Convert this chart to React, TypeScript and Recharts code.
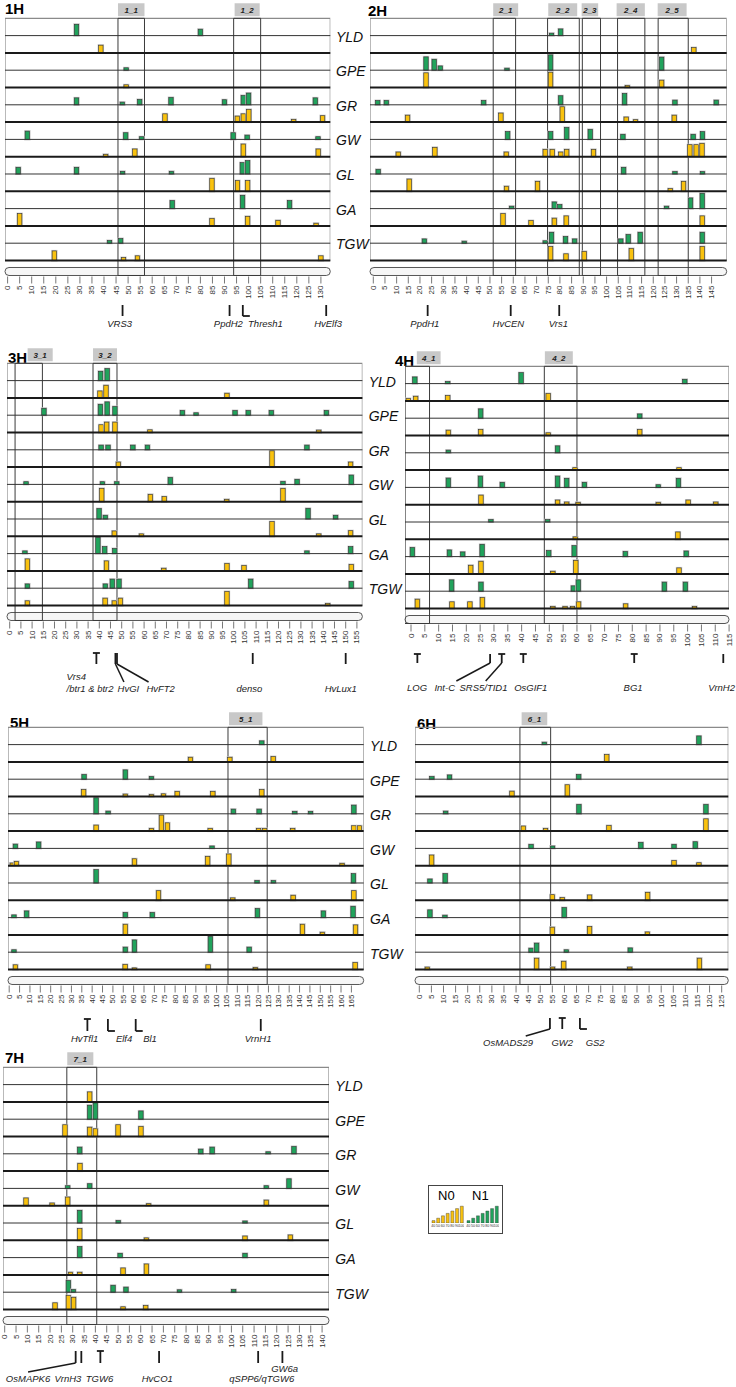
import React from 'react';
import {
  ComposedChart, BarChart, ScatterChart, Bar, Scatter, XAxis, YAxis,
  ReferenceArea, ReferenceLine,
} from 'recharts';

const TRAITS = ['YLD', 'GPE', 'GR', 'GW', 'GL', 'GA', 'TGW'];

// QTL bars: [trait, position (cM), relative bar height]
const n1_1H = [
  ['YLD', 28.6, 85], ['YLD', 80, 48],
  ['GPE', 49.2, 18],
  ['GR', 28.6, 52], ['GR', 47.6, 20], ['GR', 54.8, 40], ['GR', 67.8, 55], ['GR', 90, 38], ['GR', 97.8, 70], ['GR', 100, 88], ['GR', 127.7, 52],
  ['GW', 8.2, 62], ['GW', 49, 50], ['GW', 55.6, 20], ['GW', 93.6, 50], ['GW', 99.4, 32], ['GW', 128.8, 20],
  ['GL', 4.4, 50], ['GL', 28.6, 50], ['GL', 47.7, 20], ['GL', 68, 20], ['GL', 97.4, 85], ['GL', 99.6, 100],
  ['GA', 68.3, 60], ['GA', 97.5, 100], ['GA', 117, 60],
  ['TGW', 42.3, 20], ['TGW', 46.9, 35],
];
const n0_1H = [
  ['YLD', 38.7, 58],
  ['GPE', 49.2, 20],
  ['GR', 65.3, 62], ['GR', 95.3, 45], ['GR', 97.8, 62], ['GR', 100.1, 95], ['GR', 118.7, 20], ['GR', 130.7, 48],
  ['GW', 40.7, 18], ['GW', 52.8, 58], ['GW', 97.8, 95], ['GW', 128.9, 58],
  ['GL', 84.8, 97], ['GL', 95.4, 80], ['GL', 99.6, 80],
  ['GA', 5, 92], ['GA', 84.8, 55], ['GA', 99.6, 72], ['GA', 112.2, 42], ['GA', 128, 20],
  ['TGW', 19.4, 72], ['TGW', 48.1, 22], ['TGW', 53.9, 35], ['TGW', 130, 35],
];

const n1_2H = [
  ['YLD', 76.4, 18], ['YLD', 80.3, 50],
  ['GPE', 22.6, 100], ['GPE', 26.1, 82], ['GPE', 28.7, 32], ['GPE', 57.3, 15], ['GPE', 76, 115], ['GPE', 123.6, 98],
  ['GR', 1.9, 32], ['GR', 5.6, 32], ['GR', 47.3, 32], ['GR', 80.3, 68], ['GR', 107.7, 85], ['GR', 129.3, 35], ['GR', 147, 35],
  ['GW', 57.6, 58], ['GW', 76, 58], ['GW', 82.9, 90], ['GW', 93, 75], ['GW', 107, 38], ['GW', 137.1, 38], ['GW', 141.1, 58],
  ['GL', 2.1, 35], ['GL', 107.3, 50], ['GL', 129.3, 18], ['GL', 141.1, 18],
  ['GA', 59.3, 18], ['GA', 77.6, 50], ['GA', 79.9, 30], ['GA', 125.7, 18], ['GA', 136, 80], ['GA', 141, 115],
  ['TGW', 21.9, 32], ['TGW', 39, 15], ['TGW', 73.7, 18], ['TGW', 76.4, 82], ['TGW', 82.4, 50], ['TGW', 86.3, 32],
  ['TGW', 106.1, 32], ['TGW', 109.3, 65], ['TGW', 114.4, 82], ['TGW', 141, 82],
];
const n0_2H = [
  ['YLD', 137.4, 40],
  ['GPE', 22.6, 110], ['GPE', 76, 115], ['GPE', 108.9, 15], ['GPE', 123.6, 55],
  ['GR', 14.7, 52], ['GR', 54.7, 68], ['GR', 81, 115], ['GR', 108.4, 38], ['GR', 112.4, 18], ['GR', 129, 52],
  ['GW', 10.7, 35], ['GW', 26.4, 70], ['GW', 57, 35], ['GW', 73.7, 55], ['GW', 76.7, 55], ['GW', 80.4, 35],
  ['GW', 82.9, 55], ['GW', 94.4, 55], ['GW', 135.7, 90], ['GW', 138.4, 90], ['GW', 140.9, 100],
  ['GL', 15.4, 92], ['GL', 57.1, 38], ['GL', 70.4, 75], ['GL', 127.3, 20], ['GL', 133, 75],
  ['GA', 55.6, 92], ['GA', 67.6, 40], ['GA', 77.6, 58], ['GA', 82.7, 75], ['GA', 141, 75],
  ['TGW', 76, 105], ['TGW', 82.6, 50], ['TGW', 90.4, 68], ['TGW', 110.6, 90], ['TGW', 141, 105],
];

const n1_3H = [
  ['YLD', 40.6, 70], ['YLD', 43.5, 90],
  ['GPE', 15.3, 52], ['GPE', 40.5, 82], ['GPE', 43.5, 100], ['GPE', 47, 65], ['GPE', 77.1, 35], ['GPE', 83.2, 18],
  ['GPE', 100.6, 35], ['GPE', 106.5, 35], ['GPE', 116.8, 35], ['GPE', 141.4, 35],
  ['GR', 40.8, 35], ['GR', 43.9, 35], ['GR', 55, 35], ['GR', 61.5, 35], ['GR', 132.7, 35],
  ['GW', 7.3, 20], ['GW', 41.4, 20], ['GW', 47.8, 20], ['GW', 71.7, 52], ['GW', 122, 22], ['GW', 128.3, 38], ['GW', 152.5, 70],
  ['GL', 39.9, 78], ['GL', 42.7, 28], ['GL', 133.2, 80], ['GL', 145.5, 28],
  ['GA', 6.8, 20], ['GA', 39.4, 122], ['GA', 42.4, 52], ['GA', 46.9, 38], ['GA', 132.7, 20], ['GA', 152.2, 52],
  ['TGW', 7.9, 32], ['TGW', 42.7, 32], ['TGW', 45.8, 68], ['TGW', 48.8, 68], ['TGW', 107.6, 68], ['TGW', 152.5, 50],
];
const n0_3H = [
  ['YLD', 40.3, 52], ['YLD', 43, 95], ['YLD', 97, 35],
  ['GPE', 40.8, 58], ['GPE', 43.3, 78], ['GPE', 47, 78], ['GPE', 62.6, 20], ['GPE', 138, 18],
  ['GR', 48.5, 38], ['GR', 117.1, 122], ['GR', 152.2, 38],
  ['GW', 41.1, 100], ['GW', 62.8, 55], ['GW', 69, 38], ['GW', 96.9, 18], ['GW', 122, 100],
  ['GL', 46.7, 40], ['GL', 58.8, 18], ['GL', 117.1, 110], ['GL', 138, 18], ['GL', 152.2, 42],
  ['GA', 7.9, 90], ['GA', 43.2, 75], ['GA', 68.8, 20], ['GA', 97, 55], ['GA', 104.6, 40], ['GA', 152.5, 48],
  ['TGW', 7.9, 35], ['TGW', 42.6, 55], ['TGW', 46.7, 35], ['TGW', 49.4, 55], ['TGW', 97, 105], ['TGW', 142, 15],
];

const n1_4H = [
  ['YLD', 1.4, 50], ['YLD', 13.3, 15], ['YLD', 39.8, 82], ['YLD', 99, 32],
  ['GPE', 25.2, 70], ['GPE', 82.7, 32],
  ['GR', 13.5, 20], ['GR', 53, 52],
  ['GW', 13.5, 70], ['GW', 25.1, 85], ['GW', 33, 38], ['GW', 53, 85], ['GW', 56.3, 68], ['GW', 62.7, 38], ['GW', 89.4, 20], ['GW', 96.7, 68],
  ['GL', 28.9, 18], ['GL', 49.4, 18],
  ['GA', 0.5, 68], ['GA', 13.9, 50], ['GA', 18.7, 35], ['GA', 25.7, 92], ['GA', 49.8, 45], ['GA', 59, 82], ['GA', 77.5, 38], ['GA', 99.5, 42],
  ['TGW', 14.7, 85], ['TGW', 25.3, 68], ['TGW', 58.7, 40], ['TGW', 60.5, 85], ['TGW', 91.6, 68], ['TGW', 99.2, 68],
];
const n0_4H = [
  ['YLD', -1, 18], ['YLD', 1.7, 35], ['YLD', 13.3, 40], ['YLD', 49.6, 55],
  ['GPE', 13.5, 40], ['GPE', 25.2, 45], ['GPE', 49.6, 20], ['GPE', 82.7, 45],
  ['GR', 59.3, 18], ['GR', 96.9, 18],
  ['GW', 25.3, 72], ['GW', 53, 35], ['GW', 56.3, 20], ['GW', 60.4, 18], ['GW', 89.4, 18], ['GW', 100.2, 35], ['GW', 110.2, 20],
  ['GL', 59.4, 18], ['GL', 96.5, 55],
  ['GA', 21.6, 65], ['GA', 25.3, 95], ['GA', 51.3, 20], ['GA', 59.6, 102], ['GA', 96.9, 45],
  ['TGW', 2.3, 70], ['TGW', 14.8, 50], ['TGW', 21.3, 50], ['TGW', 25.8, 82], ['TGW', 51.3, 15], ['TGW', 55.7, 15],
  ['TGW', 58.4, 15], ['TGW', 60.6, 50], ['TGW', 77.6, 35], ['TGW', 102.5, 15],
];

const n1_5H = [
  ['YLD', 121.8, 28],
  ['GPE', 36.1, 35], ['GPE', 56, 70], ['GPE', 68.6, 20],
  ['GR', 41.9, 120], ['GR', 47.7, 20], ['GR', 108.1, 35], ['GR', 120.5, 35], ['GR', 137.7, 18], ['GR', 145.3, 18], ['GR', 166.2, 65],
  ['GW', 3, 32], ['GW', 14.2, 48], ['GW', 97.8, 18],
  ['GL', 41.9, 100], ['GL', 119.5, 18], ['GL', 127.4, 18], ['GL', 166, 70],
  ['GA', 2.3, 20], ['GA', 8.4, 50], ['GA', 56, 38], ['GA', 69, 38], ['GA', 119.7, 68], ['GA', 151.5, 50], ['GA', 165.8, 85],
  ['TGW', 2.3, 18], ['TGW', 56, 38], ['TGW', 60.4, 92], ['TGW', 97, 118], ['TGW', 115.7, 38],
];
const n0_5H = [
  ['YLD', 87.4, 35], ['YLD', 106.4, 35], ['YLD', 127.3, 40],
  ['GPE', 35.9, 52], ['GPE', 56, 18], ['GPE', 68.6, 15], ['GPE', 74.4, 20], ['GPE', 81, 38], ['GPE', 98.2, 38], ['GPE', 121.8, 52],
  ['GR', 41.9, 45], ['GR', 68.6, 20], ['GR', 73.4, 120], ['GR', 76.3, 62], ['GR', 96.9, 20], ['GR', 120.3, 20], ['GR', 123.2, 20],
  ['GR', 136.7, 20], ['GR', 166.2, 40], ['GR', 168.9, 40],
  ['GW', 1.5, 20], ['GW', 3.5, 32], ['GW', 60.4, 52], ['GW', 95.7, 70], ['GW', 105.9, 88], ['GW', 160.5, 18],
  ['GL', 72, 72], ['GL', 107.8, 18], ['GL', 136.9, 38], ['GL', 166.2, 72],
  ['GA', 56, 80], ['GA', 141.4, 80], ['GA', 151, 20], ['GA', 167, 75],
  ['TGW', 3, 35], ['TGW', 55.9, 38], ['TGW', 60.4, 12], ['TGW', 95.9, 35], ['TGW', 118.7, 15], ['TGW', 166.8, 52],
];

const n1_6H = [
  ['YLD', 51.7, 18], ['YLD', 115.6, 65],
  ['GPE', 5.2, 20], ['GPE', 12.5, 32], ['GPE', 65.9, 35],
  ['GR', 10.9, 20], ['GR', 66, 70], ['GR', 118.5, 70],
  ['GW', 46.2, 30], ['GW', 55.1, 18], ['GW', 91.6, 45], ['GW', 105.3, 30], ['GW', 114.1, 50],
  ['GL', 4.4, 30], ['GL', 10.7, 70],
  ['GA', 4.4, 58], ['GA', 10.6, 18], ['GA', 59.9, 75],
  ['TGW', 46.2, 30], ['TGW', 48.5, 68], ['TGW', 60.8, 18], ['TGW', 87.2, 32],
];
const n0_6H = [
  ['YLD', 77.5, 55],
  ['GPE', 38.3, 40], ['GPE', 61.2, 88],
  ['GR', 43, 38], ['GR', 52.2, 20], ['GR', 78.4, 42], ['GR', 118.5, 92],
  ['GW', 5.1, 80], ['GW', 105.3, 38], ['GW', 115.6, 22],
  ['GL', 55, 42], ['GL', 59.1, 20], ['GL', 70.4, 40], ['GL', 94.4, 60],
  ['GA', 55, 58], ['GA', 70.4, 62], ['GA', 94.3, 22],
  ['TGW', 3.3, 18], ['TGW', 48.5, 85], ['TGW', 55.1, 18], ['TGW', 59.7, 62], ['TGW', 87, 18], ['TGW', 115.8, 85],
];

const n1_7H = [
  ['GPE', 37.5, 105], ['GPE', 40, 122], ['GPE', 60.1, 62],
  ['GR', 33.1, 50], ['GR', 86.5, 35], ['GR', 91.5, 50], ['GR', 116.2, 15], ['GR', 127.6, 55],
  ['GW', 27.8, 20], ['GW', 37.5, 35], ['GW', 115.4, 20], ['GW', 125.4, 72],
  ['GL', 33.1, 95], ['GL', 50.1, 18], ['GL', 106, 15],
  ['GA', 33.1, 82], ['GA', 50.9, 32], ['GA', 106, 32],
  ['TGW', 28.1, 88], ['TGW', 30.3, 20], ['TGW', 47.8, 52], ['TGW', 53.5, 38], ['TGW', 77.1, 18], ['TGW', 101, 20],
];
const n0_7H = [
  ['YLD', 37.5, 75],
  ['GPE', 26.6, 88], ['GPE', 37.5, 70], ['GPE', 40, 58], ['GPE', 50, 88], ['GPE', 60.1, 75],
  ['GR', 33.2, 58],
  ['GW', 9.4, 58], ['GW', 20.9, 20], ['GW', 27.8, 65], ['GW', 63.5, 15], ['GW', 115.4, 42],
  ['GL', 33.1, 88], ['GL', 62.5, 18], ['GL', 106, 32], ['GL', 126, 40],
  ['GA', 29, 20], ['GA', 33.1, 20], ['GA', 52.2, 52], ['GA', 62.5, 82],
  ['TGW', 22.2, 50], ['TGW', 28.1, 105], ['TGW', 30.4, 92], ['TGW', 52.2, 20], ['TGW', 62.2, 30],
];

// regions: [name, start, end, label start, label end] in cM
const regions1H = [['1_1', 45.8, 56.8, 45.8, 56.8], ['1_2', 93.8, 105, 94.2, 104.6]];
const regions2H = [
  ['2_1', 51.4, 61, 51.4, 62.1], ['2_2', 74.7, 88.3, 75, 87.4], ['2_3', 89.6, 97.4, 89.3, 96.4],
  ['2_4', 104.7, 116.4, 104.3, 116.4], ['2_5', 122.1, 135, 121.9, 134.3],
];
const regions3H = [['3_1', 2.4, 14.6, 8, 19.2], ['3_2', 37.2, 47.9, 37.2, 47.9]];
const regions4H = [['4_1', -2.2, 6.7, 2.1, 10.7], ['4_2', 48.2, 60, 48.4, 58.5]];
const regions5H = [['5_1', 105.5, 124.4, 106, 122.1]];
const regions6H = [['6_1', 41.6, 54.3, 42.3, 52.9]];
const regions7H = [['7_1', 27.4, 40.6, 27.6, 39.1]];

// candidate genes: [label, marker cM, label cM, glyph, label row, leader end cM]
const genes1H = [
  ['VRS3', 47.7, 46.5, 'I', 0, null], ['PpdH2', 92.1, 91.6, 'I', 0, null],
  ['Thresh1', 97.6, 107, 'L', 0, null], ['HvElf3', 132.2, 133, 'I', 0, null],
];
const genes2H = [['PpdH1', 23.3, 22.1, 'I', 0, null], ['HvCEN', 58.9, 57.9, 'I', 0, null], ['Vrs1', 79.7, 79.3, 'I', 0, null]];
const genes3H = [
  ['Vrs4\n/btr1 & btr2', 38.7, 25.4, 'T', 0, null, 'start'],
  ['HvGI', 47.2, 53, 'I', 1, 51], ['HvFT2', 47.9, 67.4, 'I', 1, 62],
  ['denso', 108.5, 107, 'I', 1, null], ['HvLux1', 150, 147.8, 'I', 1, null],
];
const genes4H = [
  ['LOG', 2.3, 2.2, 'T', 0, null], ['Int-C', 28.6, 12.2, 'I', 0, 16.4], ['SRS5/TID1', 32.8, 26.2, 'T', 0, 27],
  ['OsGIF1', 40.6, 43.3, 'T', 0, null], ['BG1', 80.7, 80.3, 'T', 0, null], ['VrnH2', 112.9, 112.3, 'I', 0, null],
];
const genes5H = [
  ['HvTfl1', 37.7, 36.4, 'T', 0, null], ['Elf4', 47.6, 55.4, 'L', 0, null],
  ['Bl1', 61, 67.9, 'L', 0, null], ['VrnH1', 121.3, 120, 'I', 0, null],
];
const genes6H = [['OsMADS29', 54, 36.7, 'I', 0, 44], ['GW2', 59.1, 59.1, 'T', 0, null], ['GS2', 66.4, 72.7, 'L', 0, null]];
const genes7H = [
  ['OsMAPK6', 31.3, 10.3, 'I', 1, 10.3], ['VrnH3', 33.8, 27.9, 'I', 1, null], ['TGW6', 42.2, 41.8, 'T', 1, null],
  ['HvCO1', 68.1, 67.3, 'I', 1, null], ['qSPP6/qTGW6', 111.8, 113.4, 'I', 1, null], ['GW6a', 122.5, 123.5, 'I', 0, null],
];

const LEGEND_LEVELS = [40, 50, 60, 70, 80, 90, 100];

const FONT = '"Liberation Sans", Arial, Helvetica, sans-serif';
const GREEN = '#21a35c';
const YELLOW = '#f9c20f';
const ROW_PX = 34.6;
const SUB = 130;
const PANEL_U = SUB * 14;
const UNIT_PX = ROW_PX / (SUB * 2);
const TOP_PX = 15.3;
const BOT_PX = 16;
const AXIS_H = 30;
const GM = 40;

const PANELS = [
  { name: '1H', n1: n1_1H, n0: n0_1H, regions: regions1H, genes: genes1H, max: 130,
    left: 4.7, right: 330, top: 18.3, x0: 7.3, ppc: 2.41, tx: 5, ty: 0, labels: true,
    g: { mTop: 44, mBot: 55, lab: 66, gap: 11 } },
  { name: '2H', n1: n1_2H, n0: n0_2H, regions: regions2H, genes: genes2H, max: 145,
    left: 370, right: 726.7, top: 18.3, x0: 373.3, ppc: 2.333, tx: 368, ty: 2, labels: false,
    g: { mTop: 44, mBot: 55, lab: 66, gap: 11 } },
  { name: '3H', n1: n1_3H, n0: n0_3H, regions: regions3H, genes: genes3H, max: 155,
    left: 7.3, right: 362.7, top: 363.3, x0: 10, ppc: 2.24, tx: 8, ty: 349, labels: true,
    g: { mTop: 47, mBot: 58, lab: 74, gap: 12 } },
  { name: '4H', n1: n1_4H, n0: n0_4H, regions: regions4H, genes: genes4H, max: 115,
    left: 405, right: 729, top: 366, x0: 411, ppc: 2.766, tx: 395, ty: 352, labels: false,
    g: { mTop: 46, mBot: 55, lab: 83, gap: 12 } },
  { name: '5H', n1: n1_5H, n0: n0_5H, regions: regions5H, genes: genes5H, max: 165,
    left: 8.3, right: 364, top: 727.7, x0: 9.5, ppc: 2.074, tx: 10, ty: 714, labels: true,
    g: { mTop: 49, mBot: 61, lab: 72, gap: 12 } },
  { name: '6H', n1: n1_6H, n0: n0_6H, regions: regions6H, genes: genes6H, max: 125,
    left: 415, right: 728.3, top: 727.7, x0: 419.3, ppc: 2.419, tx: 417, ty: 715, labels: false,
    g: { mTop: 48, mBot: 59, lab: 76, gap: 12 } },
  { name: '7H', n1: n1_7H, n0: n0_7H, regions: regions7H, genes: genes7H, max: 140,
    left: 3.3, right: 329.3, top: 1067.7, x0: 5, ppc: 2.267, tx: 5, ty: 1049, labels: true,
    g: { mTop: 41, mBot: 53, lab: 62, gap: 10 } },
];

function toBars(rows: any[], n: number) {
  return rows.map(([trait, x, h]) => {
    const r = TRAITS.indexOf(trait) * 2 + (n === 1 ? 0 : 1);
    const base = (13 - r) * SUB;
    return { x, range: [base, base + h], n };
  });
}

// bars keep a fixed pixel width, centred on the scaled position
const QtlBar = (p: any) => {
  const { x, y, width, height, payload } = p;
  if (x == null || y == null || height == null || isNaN(height)) return null;
  const cx = x + (width || 0) / 2;
  const y0 = Math.min(y, y + height);
  const h = Math.abs(height);
  return (
    <g>
      <rect x={cx - 2.2} y={y0} width={4.4} height={h} fill="none" stroke="#c4c4c4" strokeWidth={2} />
      <rect x={cx - 2.2} y={y0} width={4.4} height={h} fill={payload.n === 1 ? GREEN : YELLOW}
        stroke="#333" strokeWidth={0.6} />
    </g>
  );
};

const RotTick = (props: any) => {
  const { x, y, payload } = props;
  return (
    <text x={x} y={y} transform={`rotate(-90 ${x} ${y})`} textAnchor="end" dominantBaseline="central"
      fontSize={8} fill="#333" fontFamily={FONT}>
      {payload.value}
    </text>
  );
};

const Chromosome = (p: any) => (
  <rect x={p.x} y={p.y} width={p.width} height={p.height} rx={p.height / 2} ry={p.height / 2}
    fill="#f6f6f6" stroke="#555" strokeWidth={1} />
);

const Glyph = (p: any) => {
  const { cx, cy, payload } = p;
  const len = payload.len;
  return (
    <g stroke="#1a1a1a" strokeWidth={1.8} fill="none">
      <line x1={cx} y1={cy} x2={cx} y2={cy + len} />
      {payload.kind === 'T' && <line x1={cx - 3.5} y1={cy} x2={cx + 3.5} y2={cy} />}
      {payload.kind === 'L' && <line x1={cx} y1={cy + len} x2={cx + 7} y2={cy + len} />}
    </g>
  );
};

const GeneText = (p: any) => {
  const { cx, cy, payload } = p;
  const lines = payload.text.split('\n');
  return (
    <text x={cx} y={cy} textAnchor={payload.anchor} fontSize={9.5} fontStyle="italic" fontFamily={FONT} fill="#222">
      {lines.map((l: string, i: number) => (
        <tspan key={i} x={cx} dy={i === 0 ? 0 : payload.gap}>{l}</tspan>
      ))}
    </text>
  );
};

function Panel({ cfg }: { cfg: any }) {
  const { left, right, top, x0, ppc, max, g } = cfg;
  const w = right - left;
  const dom = [(left - x0) / ppc, (right - x0) / ppc];
  const panelH = 7 * ROW_PX;
  const yTop = PANEL_U + TOP_PX / UNIT_PX;
  const yBot = -BOT_PX / UNIT_PX;
  const mainH = TOP_PX + panelH + BOT_PX + AXIS_H;
  const pb = top + panelH;
  const ticks: number[] = [];
  for (let v = 0; v <= max; v += 5) ticks.push(v);
  const bars = [...toBars(cfg.n1, 1), ...toBars(cfg.n0, 0)];

  const marks = cfg.genes.map((d: any) => ({ x: d[1], y: g.mTop, kind: d[3], len: g.mBot - g.mTop }));
  const texts = cfg.genes.map((d: any) => ({
    x: d[2], y: g.lab + d[4] * g.gap, text: d[0], anchor: d[6] || 'middle', gap: g.gap,
  }));

  return (
    <>
      <div style={{ position: 'absolute', left: cfg.tx, top: cfg.ty, fontFamily: FONT, fontWeight: 'bold', fontSize: 15, lineHeight: '17px' }}>
        {cfg.name}
      </div>
      <div style={{ position: 'absolute', left: left - GM, top: top - TOP_PX }}>
        <ComposedChart width={w + 2 * GM} height={mainH} data={bars} margin={{ top: 0, right: GM, bottom: 0, left: GM }}>
          <XAxis type="number" dataKey="x" domain={dom} allowDataOverflow ticks={ticks} interval={0}
            tickSize={7} tickMargin={2} axisLine={false} tickLine={{ stroke: '#777' }} tick={<RotTick />} height={AXIS_H} />
          <YAxis type="number" hide domain={[yBot, yTop]} allowDataOverflow />
          <ReferenceArea x1={dom[0]} x2={dom[1]} y1={-7 / UNIT_PX} y2={-15 / UNIT_PX} ifOverflow="hidden" shape={Chromosome} />
          {cfg.regions.map((r: any) => (
            <ReferenceArea key={'b' + r[0]} x1={r[3]} x2={r[4]} y1={PANEL_U + 2 / UNIT_PX} y2={PANEL_U + 15 / UNIT_PX}
              ifOverflow="hidden" fill="#c8c8c8" fillOpacity={1} stroke="none"
              label={{ value: r[0], position: 'center', fontSize: 8, fontWeight: 'bold', fontStyle: 'italic', fill: '#222', fontFamily: FONT }} />
          ))}
          <ReferenceArea x1={dom[0]} x2={dom[1]} y1={0} y2={PANEL_U} ifOverflow="hidden" fill="none" stroke="#8a8a8a" strokeWidth={1.2} />
          {Array.from({ length: 14 }, (_, k) => (
            <ReferenceLine key={'r' + k} y={k * SUB} stroke={k % 2 === 0 ? '#1a1a1a' : '#333'} strokeWidth={k % 2 === 0 ? 2 : 1} />
          ))}
          {cfg.regions.map((r: any) => (
            <ReferenceArea key={'a' + r[0]} x1={r[1]} x2={r[2]} y1={-15 / UNIT_PX} y2={PANEL_U}
              ifOverflow="hidden" fill="none" stroke="#3a3a3a" strokeWidth={1} />
          ))}
          <Bar dataKey="range" barSize={4} isAnimationActive={false} shape={QtlBar} />
        </ComposedChart>
      </div>
      <div style={{ position: 'absolute', left: left - GM, top: pb + 35 }}>
        <ScatterChart width={w + 2 * GM} height={65} margin={{ top: 0, right: GM, bottom: 0, left: GM }}>
          <XAxis type="number" dataKey="x" domain={dom} hide />
          <YAxis type="number" dataKey="y" domain={[35, 100]} reversed hide />
          {cfg.genes.filter((d: any) => d[5] != null).map((d: any) => (
            <ReferenceLine key={'l' + d[0]} ifOverflow="visible" stroke="#1a1a1a" strokeWidth={1.5}
              segment={[{ x: d[1], y: g.mBot }, { x: d[5], y: g.lab + d[4] * g.gap - 10 }]} />
          ))}
          <Scatter data={marks} shape={Glyph} isAnimationActive={false} />
          <Scatter data={texts} shape={GeneText} isAnimationActive={false} />
        </ScatterChart>
      </div>
      {cfg.labels && TRAITS.map((t, i) => (
        <div key={t} style={{ position: 'absolute', left: right + 6, top: top + (i + 0.5) * ROW_PX - 7,
          fontFamily: FONT, fontStyle: 'italic', fontSize: 14, lineHeight: '16px', color: '#111' }}>
          {t}
        </div>
      ))}
    </>
  );
}

function LegendBox() {
  const d = LEGEND_LEVELS.map((v) => ({ k: String(v), v }));
  const mini = (color: string) => (
    <BarChart width={33} height={25} data={d} margin={{ top: 0, right: 0, bottom: 0, left: 0 }} barCategoryGap={1}>
      <XAxis dataKey="k" interval={0} tick={{ fontSize: 3.6, fill: '#333' }} tickLine={false} tickSize={0}
        axisLine={false} height={7} tickMargin={1} />
      <YAxis hide domain={[30, 105]} allowDataOverflow />
      <Bar dataKey="v" fill={color} stroke="#333" strokeWidth={0.4} isAnimationActive={false} />
    </BarChart>
  );
  return (
    <div style={{ position: 'absolute', left: 428, top: 1185, width: 73, height: 47, border: '1px solid #444', fontFamily: FONT }}>
      <div style={{ position: 'absolute', left: 9, top: 2, fontSize: 13 }}>N0</div>
      <div style={{ position: 'absolute', left: 43, top: 2, fontSize: 13 }}>N1</div>
      <div style={{ position: 'absolute', left: 2, top: 19 }}>{mini(YELLOW)}</div>
      <div style={{ position: 'absolute', left: 37, top: 19 }}>{mini(GREEN)}</div>
    </div>
  );
}

export default function App() {
  return (
    <div style={{ position: 'absolute', left: 0, top: 0, width: 736, height: 1387, background: '#fff', overflow: 'hidden' }}>
      {PANELS.map((p) => <Panel key={p.name} cfg={p} />)}
      <LegendBox />
    </div>
  );
}
